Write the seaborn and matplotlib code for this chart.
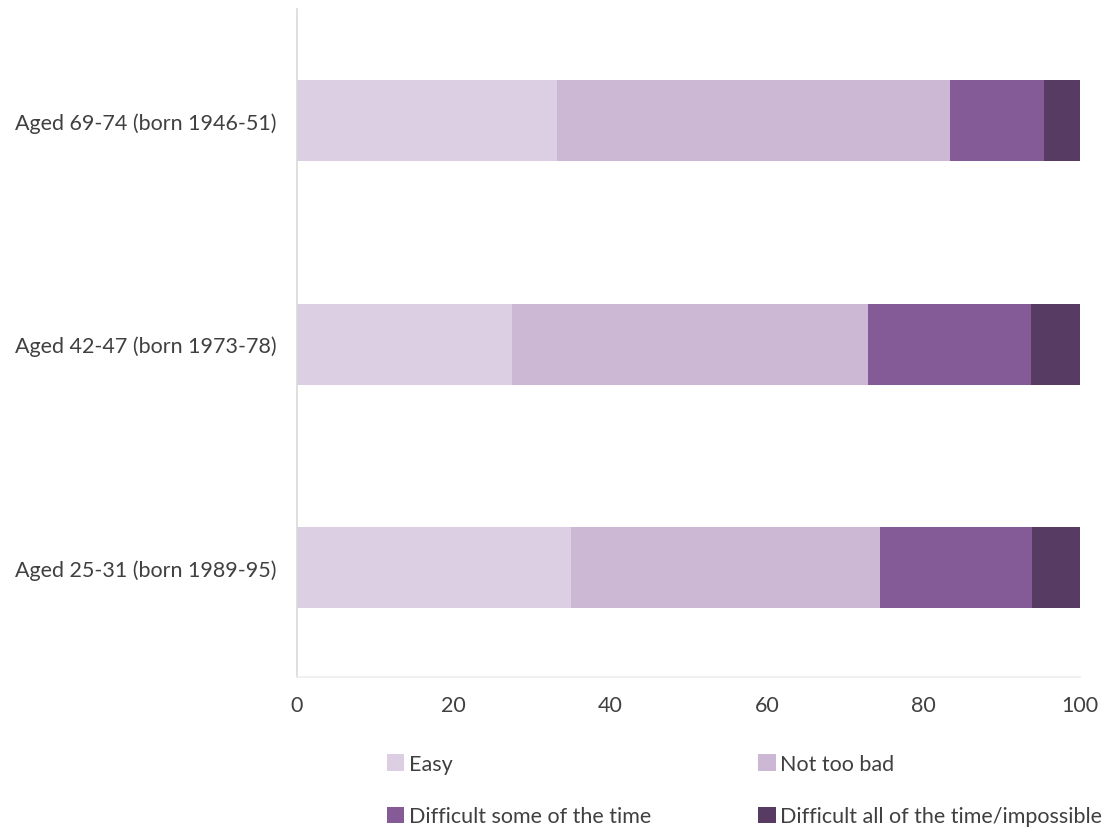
import matplotlib
matplotlib.use("Agg")
import matplotlib.pyplot as plt
import seaborn as sns
import pandas as pd
import numpy as np
from matplotlib.patches import Patch

categories = ["Aged 69-74 (born 1946-51)", "Aged 42-47 (born 1973-78)", "Aged 25-31 (born 1989-95)"]
series_names = ["Easy", "Not too bad", "Difficult some of the time", "Difficult all of the time/impossible"]
easy = [33.2, 27.4, 35.0]
not_too_bad = [50.2, 45.5, 39.4]
difficult_some = [12.0, 20.8, 19.5]
difficult_all = [4.6, 6.3, 6.1]
colors = ["#DDCFE3", "#CCB8D5", "#845B96", "#573B63"]
xticks = [0, 20, 40, 60, 80, 100]

sns.set_theme(style="white")
plt.rcParams['font.family'] = ['Lato', 'DejaVu Sans']
text_color = "#404040"

fig = plt.figure(figsize=(11.09, 8.29), dpi=100)
ax = fig.add_axes([297/1109, 1-678/829, (1080-297)/1109, (678-10)/829])

vals = np.array([easy, not_too_bad, difficult_some, difficult_all])
cum = np.cumsum(vals, axis=0)
for i in range(len(series_names)-1, -1, -1):
    df = pd.DataFrame({"cat": categories, "val": cum[i]})
    sns.barplot(data=df, x="val", y="cat", orient="h", color=colors[i],
                width=0.362, saturation=1, ax=ax, linewidth=0)

ax.set_xlim(0, 100)
ax.set_ylim(2.49, -0.5)
ax.set_xticks(xticks)
ax.set_xticklabels([str(t) for t in xticks])
ax.set_xlabel("")
ax.set_ylabel("")
ax.tick_params(axis='both', length=0, labelsize=15.5, colors=text_color)
ax.tick_params(axis='x', pad=13)
ax.tick_params(axis='y', pad=15)
for s in ["top", "right"]:
    ax.spines[s].set_visible(False)
ax.spines["left"].set_color("#D9D9D9")
ax.spines["left"].set_linewidth(1.2)
ax.spines["bottom"].set_color("#EDEDED")
ax.spines["bottom"].set_linewidth(1.2)

handles = [Patch(facecolor=c, edgecolor='none') for c in colors]
order = [0, 2, 1, 3]
leg = fig.legend([handles[i] for i in order], [series_names[i] for i in order],
                 ncol=2, loc="upper left", bbox_to_anchor=(387/1109, 1-755/829),
                 frameon=False, fontsize=15.5, handlelength=0.8, handleheight=0.8,
                 handletextpad=0.2, columnspacing=5.0, labelspacing=1.5,
                 labelcolor=text_color, borderaxespad=0, borderpad=0)

fig.savefig("out.png", dpi=100)
